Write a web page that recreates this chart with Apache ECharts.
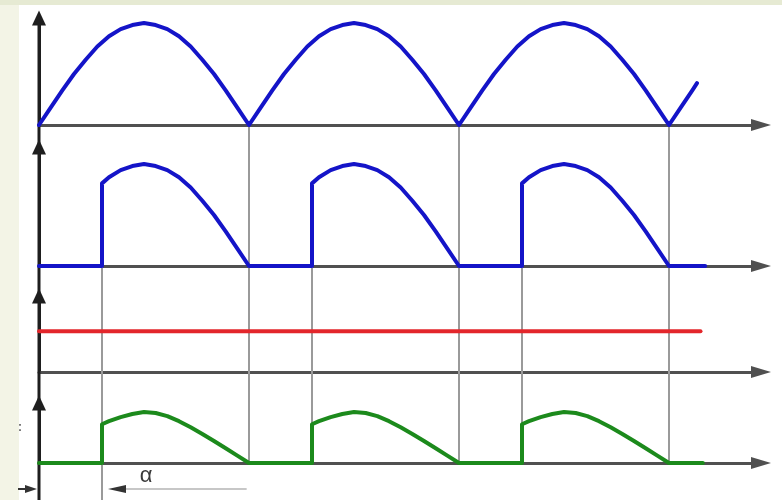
<!DOCTYPE html>
<html>
<head>
<meta charset="utf-8">
<script src="https://cdn.jsdelivr.net/npm/echarts@6/dist/echarts.min.js"></script>
<style>
  html, body { margin: 0; padding: 0; background: #ffffff; }
  #chart { width: 782px; height: 500px; }
</style>
</head>
<body>
<div id="chart"></div>
<script>
// Phase-controlled rectifier waveforms, phase in electrical degrees.
const firingAngle = 54;
const periodMarks = [180, 360, 540];
const firingMarks = [54, 234, 414];

// Rectified supply voltage
const supplyPhase = [0,10,20,30,40,50,60,70,80,90,100,110,120,130,140,150,160,170,180,
  190,200,210,220,230,240,250,260,270,280,290,300,310,320,330,340,350,360,
  370,380,390,400,410,420,430,440,450,460,470,480,490,500,510,520,530,540,550,560,564];
const supplyV = [0,.17,.34,.50,.64,.77,.87,.94,.98,1,.98,.94,.87,.77,.64,.50,.34,.17,0,
  .17,.34,.50,.64,.77,.87,.94,.98,1,.98,.94,.87,.77,.64,.50,.34,.17,0,
  .17,.34,.50,.64,.77,.87,.94,.98,1,.98,.94,.87,.77,.64,.50,.34,.17,0,.17,.34,.41];

// Load voltage after firing
const loadPhase = [0,54,54,60,70,80,90,100,110,120,130,140,150,160,170,180,
  234,234,240,250,260,270,280,290,300,310,320,330,340,350,360,
  414,414,420,430,440,450,460,470,480,490,500,510,520,530,540,571];
const loadV = [0,0,.81,.87,.94,.98,1,.98,.94,.87,.77,.64,.50,.34,.17,0,
  0,.81,.87,.94,.98,1,.98,.94,.87,.77,.64,.50,.34,.17,0,
  0,.81,.87,.94,.98,1,.98,.94,.87,.77,.64,.50,.34,.17,0,0];

// Average level
const meanPhase = [0, 567];
const meanV = [0.40, 0.40];

// Load current
const currentPhase = [0,54,54,60,70,80,90,100,110,120,130,140,150,160,170,180,
  234,234,240,250,260,270,280,290,300,310,320,330,340,350,360,
  414,414,420,430,440,450,460,470,480,490,500,510,520,530,540,569];
const currentI = [0,0,.38,.41,.45,.48,.50,.49,.46,.41,.35,.285,.215,.145,.072,0,
  0,.38,.41,.45,.48,.50,.49,.46,.41,.35,.285,.215,.145,.072,0,
  0,.38,.41,.45,.48,.50,.49,.46,.41,.35,.285,.215,.145,.072,0,0];

const alphaLabel = 'α';

// ---- layout ----
const LEFT = 39;
const PX_PER_DEG = 210 / 180;
const PLOT_W = 722;
const X_MAX = PLOT_W / PX_PER_DEG;
const PX_PER_UNIT = 102;
const panels = [
  { top: 18,  base: 125 },
  { top: 147, base: 266 },
  { top: 296, base: 372 },
  { top: 403, base: 463 }
];

const zip = (xs, ys) => xs.map((x, i) => [x, ys[i]]);

const grids = panels.map(p => ({ left: LEFT, top: p.top, width: PLOT_W, height: p.base - p.top }));
const xAxes = panels.map((p, i) => ({
  type: 'value', gridIndex: i, min: 0, max: X_MAX,
  axisLine: { show: true, onZero: false, symbol: ['none', 'triangle'], symbolSize: [12, 20],
    lineStyle: { color: '#505050', width: 3 } },
  axisTick: { show: false }, axisLabel: { show: false }, splitLine: { show: false }
}));
const yAxes = panels.map((p, i) => ({
  type: 'value', gridIndex: i, min: 0, max: (p.base - p.top) / PX_PER_UNIT,
  axisLine: { show: true, onZero: false, symbol: ['none', 'triangle'], symbolSize: [14, 15],
    lineStyle: { color: '#1e1e1e', width: 3 } },
  axisTick: { show: false }, axisLabel: { show: false }, splitLine: { show: false }
}));

const lineSeries = (idx, data, color) => ({
  type: 'line', xAxisIndex: idx, yAxisIndex: idx, data,
  showSymbol: false, symbol: 'none', smooth: false, z: 3,
  lineStyle: { color, width: 4, join: 'round', cap: 'round' }
});

const option = {
  animation: false,
  backgroundColor: '#ffffff',
  grid: grids,
  xAxis: xAxes,
  yAxis: yAxes,
  series: [
    lineSeries(0, zip(supplyPhase, supplyV), '#1414c8'),
    lineSeries(1, zip(loadPhase, loadV), '#1414c8'),
    lineSeries(2, zip(meanPhase, meanV), '#e3262b'),
    lineSeries(3, zip(currentPhase, currentI), '#1c8a1c')
  ]
};

const chart = echarts.init(document.getElementById('chart'), null, { renderer: 'canvas' });
chart.setOption(option);

const px = (g, x, y) => chart.convertToPixel({ xAxisIndex: g, yAxisIndex: g }, [x, y]);
const seg = (x1, y1, x2, y2, stroke, width, z) => ({
  type: 'line', z, silent: true,
  shape: { x1, y1, x2, y2 },
  style: { stroke, lineWidth: width }
});

const H = 500;
const els = [];
// paper edges
els.push({ type: 'rect', z: -10, shape: { x: 0, y: 0, width: 19, height: H }, style: { fill: '#f3f4e6' } });
els.push({ type: 'rect', z: -10, shape: { x: 0, y: 0, width: 782, height: 5 }, style: { fill: '#e6ead3' } });

// continuous vertical axis
const axTop = px(0, 0, yAxes[0].max);
els.push(seg(axTop[0], axTop[1] + 4, axTop[0], H, '#1e1e1e', 3, 1));

// period guides
periodMarks.forEach(p => {
  const a = px(0, p, 0), b = px(3, p, 0);
  els.push(seg(a[0], a[1], b[0], b[1], '#9a9a9a', 2, 1));
});
// firing guides
firingMarks.forEach((p, i) => {
  const a = px(1, p, 0), b = px(3, p, 0);
  els.push(seg(a[0], a[1], a[0], i === 0 ? H : b[1], '#9a9a9a', 2, 1));
});

// firing-angle dimension
const o = px(3, 0, 0), f = px(3, firingAngle, 0), e = px(3, 178, 0);
const dimY = 489;
els.push(seg(18, dimY, o[0] - 8, dimY, '#333333', 2, 2));
els.push({ type: 'polygon', z: 2, shape: { points: [[o[0] - 2, dimY], [o[0] - 14, dimY - 4], [o[0] - 14, dimY + 4]] }, style: { fill: '#333333' } });
els.push(seg(f[0] + 20, dimY, e[0], dimY, '#b5b5b5', 1.5, 2));
els.push({ type: 'polygon', z: 2, shape: { points: [[f[0] + 6, dimY], [f[0] + 24, dimY - 4], [f[0] + 24, dimY + 4]] }, style: { fill: '#333333' } });
els.push({ type: 'text', z: 2, x: f[0] + 44, y: dimY - 13,
  style: { text: alphaLabel, fill: '#3a3a3a', font: '22px "Liberation Sans", Arial, sans-serif', align: 'center', verticalAlign: 'middle' } });
els.push({ type: 'text', z: 2, x: 20, y: 428,
  style: { text: ':', fill: '#666666', font: 'bold 12px "Liberation Sans", Arial, sans-serif', align: 'center', verticalAlign: 'middle' } });

chart.setOption({ graphic: { elements: els } });
</script>
</body>
</html>
